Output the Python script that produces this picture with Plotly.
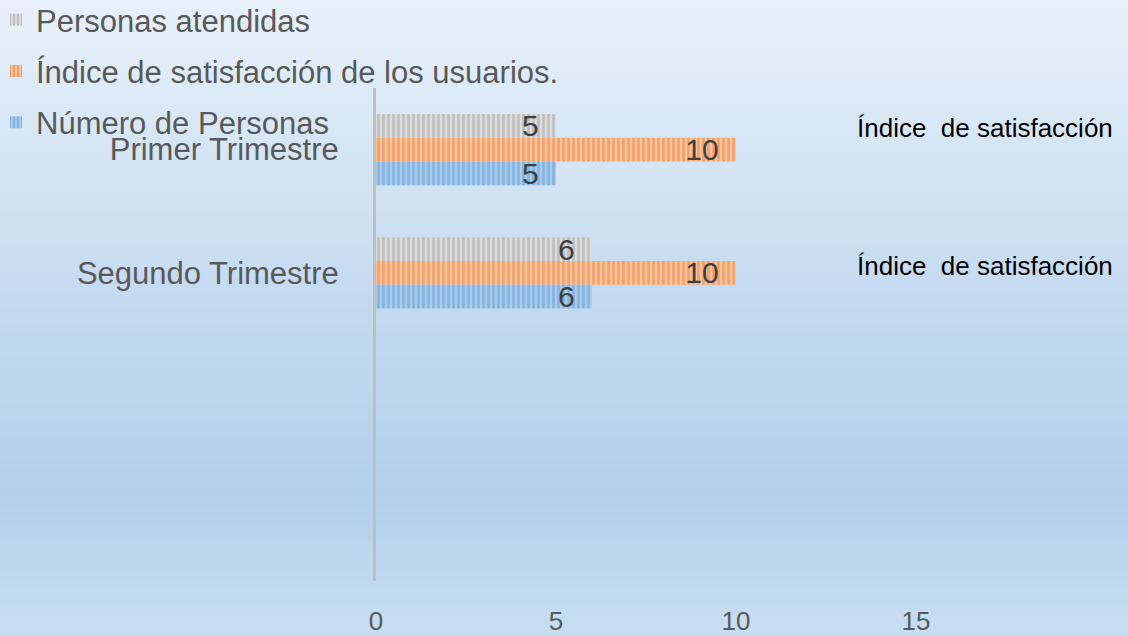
import plotly.graph_objects as go

categories = ["Primer Trimestre", "Segundo Trimestre"]
numero_personas = [5, 6]
indice_satisfaccion = [10, 10]
personas_atendidas = [5, 6]
x_ticks = [0, 5, 10, 15]
side_notes = ["Índice\u00a0 de satisfacción", "Índice\u00a0 de satisfacción"]

W, H = 1128, 636
L, R, T, B = 376, 32, 88, 55
pw, ph = W - L - R, H - T - B

fig = go.Figure()
cat_pos = list(range(len(categories)))

series = [
    ("Personas atendidas", personas_atendidas, "#dcdcdc", "#a0a0a0"),
    ("Índice de satisfacción de los usuarios.", indice_satisfaccion, "#f7c39c", "#ed7d31"),
    ("Número de Personas", numero_personas, "#a9cbec", "#5b9bd5"),
]
for i, (name, vals, bg, fg) in enumerate(series):
    fig.add_trace(go.Bar(
        name=name, x=vals, y=cat_pos, orientation="h",
        marker=dict(color=bg, line=dict(width=0),
                    pattern=dict(shape="|", bgcolor=bg, fgcolor=fg, size=5, solidity=0.5)),
        text=[str(v) for v in vals],
        texttemplate="%{text}\u00a0\u2009",
        textposition="inside", insidetextanchor="end",
        constraintext="none", textangle=0,
        textfont=dict(size=30, color="#404040", family="Liberation Sans, Arial"),
        legendgroup=f"g{i}",
        hoverinfo="skip",
    ))

# background gradient (style only)
stops = [(0.0, (0xe8, 0xf1, 0xfa)), (0.47, (0xc4, 0xda, 0xf0)),
         (0.78, (0xb2, 0xd0, 0xeb)), (1.0, (0xc8, 0xde, 0xf2))]
def col(t):
    for (t0, c0), (t1, c1) in zip(stops, stops[1:]):
        if t0 <= t <= t1:
            f = (t - t0) / (t1 - t0)
            return "rgb(%d,%d,%d)" % tuple(round(a + (b - a) * f) for a, b in zip(c0, c1))
    return "rgb(%d,%d,%d)" % stops[-1][1]

n = 80
shapes = []
for k in range(n):
    y0px = k * H / n
    y1px = (k + 1) * H / n + 1
    shapes.append(dict(type="rect", xref="paper", yref="paper", layer="below",
                       x0=(0 - L - 2) / pw, x1=(W - L + 2) / pw,
                       y0=(H - B - y1px) / ph, y1=(H - B - y0px) / ph,
                       fillcolor=col((k + 0.5) / n), line=dict(width=0)))

annotations = []
note_px = [128, 266]
for txt, ypx in zip(side_notes, note_px):
    annotations.append(dict(text=txt, xref="paper", yref="paper",
                            x=(855 - L) / pw, y=(H - B - ypx) / ph,
                            xanchor="left", yanchor="middle", showarrow=False,
                            font=dict(size=26, color="#000000", family="Liberation Sans, Arial")))

fig.update_layout(
    width=W, height=H,
    margin=dict(l=L, r=R, t=T, b=B, pad=0, autoexpand=False),
    barmode="group", bargap=0.42, bargroupgap=0.0,
    paper_bgcolor="#d0e2f3", plot_bgcolor="rgba(0,0,0,0)",
    shapes=shapes, annotations=annotations,
    font=dict(family="Liberation Sans, Arial", color="#595959"),
    legend=dict(xref="paper", yref="paper", x=(-L - 4) / pw, y=(H - B + 7) / ph,
                xanchor="left", yanchor="top", traceorder="grouped",
                tracegroupgap=8, font=dict(size=31, color="#595959"),
                bgcolor="rgba(0,0,0,0)", borderwidth=0),
    xaxis=dict(range=[0, 20], tickvals=x_ticks, ticks="", showgrid=False,
               zeroline=False, showline=False, ticklabelstandoff=22,
               tickfont=dict(size=26, color="#595959")),
    yaxis=dict(range=[3.5, -0.5], tickvals=cat_pos, ticktext=categories,
               ticks="", showgrid=False, zeroline=False, showline=True,
               linecolor="#bfbfbf", linewidth=3, ticklabelstandoff=28,
               tickfont=dict(size=31, color="#595959")),
)

fig.write_html("out.html", config={"displayModeBar": False},
               post_script="document.body.style.margin='0';")
